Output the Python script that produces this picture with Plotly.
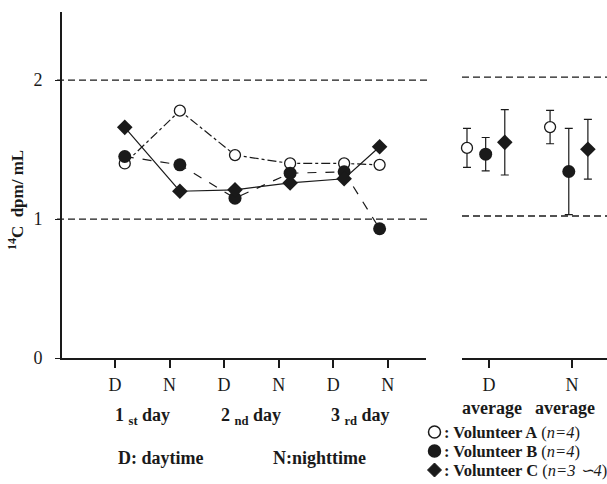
import plotly.graph_objects as go

# ---- data ----
time_labels = ["D", "N", "D", "N", "D", "N"]
day_labels = ["1 <sub>st</sub> day", "2 <sub>nd</sub> day", "3 <sub>rd</sub> day"]
vol_a = [1.40, 1.78, 1.46, 1.40, 1.40, 1.39]
vol_b = [1.45, 1.39, 1.15, 1.33, 1.34, 0.93]
vol_c = [1.66, 1.20, 1.21, 1.26, 1.29, 1.52]

avg_labels = ["D", "N"]
avg_a = [1.49, 1.64]
avg_a_err = [0.14, 0.12]
avg_b = [1.445, 1.32]
avg_b_err = [0.12, 0.31]
avg_c = [1.53, 1.48]
avg_c_err = [0.235, 0.215]

ref_levels = [1, 2]

# ---- layout helpers ----
W, H = 607, 484
L, R, T, B = 62, 0, 12, 126
PW, PH = W - L - R, H - T - B
FONT = "Liberation Serif, Times New Roman, serif"
INK = "#1a1a1a"


def px(x):
    return (x - L) / PW


def py(y):
    return (H - B - y) / PH


tick_pos = list(range(1, len(time_labels) + 1))
pt_offset = [0.18, 0.19, 0.2, 0.21, 0.2, -0.15]
pt_x = [t + o for t, o in zip(tick_pos, pt_offset)]

avg_pos = list(range(len(avg_labels)))

fig = go.Figure()

series = [
    (vol_a, "dashdot", dict(symbol="circle", size=11, color="white", line=dict(width=1.3, color=INK))),
    (vol_b, "dash", dict(symbol="circle", size=13, color=INK)),
    (vol_c, "solid", dict(symbol="diamond", size=12, color=INK)),
]
for vals, dash, mk in series:
    fig.add_trace(go.Scatter(
        x=pt_x, y=vals, mode="lines+markers",
        line=dict(color=INK, width=1.2, dash=dash),
        marker=mk, xaxis="x", yaxis="y", showlegend=False, cliponaxis=False,
    ))

avg_series = [
    (avg_a, avg_a_err, -0.265, dict(symbol="circle", size=11, color="white", line=dict(width=1.3, color=INK))),
    (avg_b, avg_b_err, -0.04, dict(symbol="circle", size=13, color=INK)),
    (avg_c, avg_c_err, 0.19, dict(symbol="diamond", size=12, color=INK)),
]
for vals, errs, off, mk in avg_series:
    fig.add_trace(go.Scatter(
        x=[p + off for p in avg_pos], y=vals, mode="markers",
        error_y=dict(type="data", array=errs, visible=True, color=INK, thickness=1.2, width=4),
        marker=mk, xaxis="x2", yaxis="y2", showlegend=False, cliponaxis=False,
    ))

# dashed reference lines
for lv in ref_levels:
    fig.add_shape(type="line", xref="paper", yref="y", x0=px(57), x1=px(430), y0=lv, y1=lv,
                  line=dict(color=INK, width=1.3, dash="7px,4px"))
    fig.add_shape(type="line", xref="paper", yref="y2", x0=px(462), x1=1.0, y0=lv, y1=lv,
                  line=dict(color=INK, width=1.3, dash="7px,4px"))

axis_font = dict(family=FONT, size=18, color=INK)

fig.update_layout(
    width=W, height=H,
    margin=dict(l=L, r=R, t=T, b=B, pad=0),
    paper_bgcolor="white", plot_bgcolor="white",
    xaxis=dict(domain=[0, px(426)], range=[0.03, 6.70], anchor="y",
               tickvals=tick_pos, ticktext=time_labels, tickfont=axis_font,
               showline=True, linecolor=INK, linewidth=2, ticks="outside",
               ticklen=8, tickwidth=1.5, tickcolor=INK, showgrid=False,
               zeroline=False, ticklabelstandoff=1),
    yaxis=dict(domain=[0, 1], range=[0, 2.49], anchor="x",
               tickvals=[0, 1, 2], ticktext=["0", "1", "2"], tickfont=axis_font,
               showline=True, linecolor=INK, linewidth=2, ticks="outside",
               ticklen=5, tickwidth=1.3, tickcolor=INK, showgrid=False,
               zeroline=False, ticklabelstandoff=9),
    xaxis2=dict(domain=[px(462), 1], range=[-0.325, 1.42], anchor="y2",
                tickvals=avg_pos, ticktext=avg_labels, tickfont=axis_font,
                showline=True, linecolor=INK, linewidth=2, ticks="outside",
                ticklen=8, tickwidth=1.5, tickcolor=INK, showgrid=False,
                zeroline=False, ticklabelstandoff=1),
    yaxis2=dict(domain=[0, 1], range=[-0.022, 2.468], anchor="x2",
                visible=False, showgrid=False, zeroline=False),
)

bold = dict(family=FONT, size=18, color=INK)
anns = []


def ann(text, x, y, font, xref="paper", xanchor="center", **kw):
    d = dict(text=text, xref=xref, yref="paper", x=x, y=y, xanchor=xanchor,
             yanchor="middle", showarrow=False, font=font)
    d.update(kw)
    anns.append(d)


# y-axis title
ann("<b><sup>14</sup>C  dpm/ mL</b>", px(16), py(200),
    dict(family=FONT, size=17, color=INK), textangle=-90)
# day labels
for i, lab in enumerate(day_labels):
    ann("<b>" + lab + "</b>", tick_pos[2 * i] + 0.5, py(417), bold, xref="x")
# key for D / N
ann("<b>D: daytime</b>", px(160), py(458), dict(family=FONT, size=18, color=INK))
ann("<b>N:nighttime</b>", px(319), py(458), dict(family=FONT, size=18, color=INK))
# average labels
for cx in (492, 565):
    ann("<b>average</b>", px(cx), py(408), bold)

# legend (symbols as pixel-sized shapes, text as annotations)
legend_rows = [
    ("open", "Volunteer A", "n=4"),
    ("filled", "Volunteer B", "n=4"),
    ("diamond", "Volunteer C", "n=3 ∽4"),
]
sym_x = px(434.5)
for (kind, name, n), yy in zip(legend_rows, (432, 451, 470)):
    yc = py(yy)
    if kind in ("open", "filled"):
        fig.add_shape(type="circle", xref="paper", yref="paper",
                      xsizemode="pixel", ysizemode="pixel", xanchor=sym_x, yanchor=yc,
                      x0=-6, x1=6, y0=-6, y1=6,
                      fillcolor=INK if kind == "filled" else "white",
                      line=dict(color=INK, width=1.5))
    else:
        fig.add_shape(type="path", xref="paper", yref="paper",
                      xsizemode="pixel", ysizemode="pixel", xanchor=sym_x, yanchor=yc,
                      path="M -7 0 L 0 7 L 7 0 L 0 -7 Z",
                      fillcolor=INK, line=dict(color=INK, width=1))
    ann(f"<b>: {name}</b> (<i>{n}</i>)", px(442), yc,
        dict(family=FONT, size=16.5, color=INK), xanchor="left")
fig.update_layout(annotations=anns)

fig.write_html("out.html")
